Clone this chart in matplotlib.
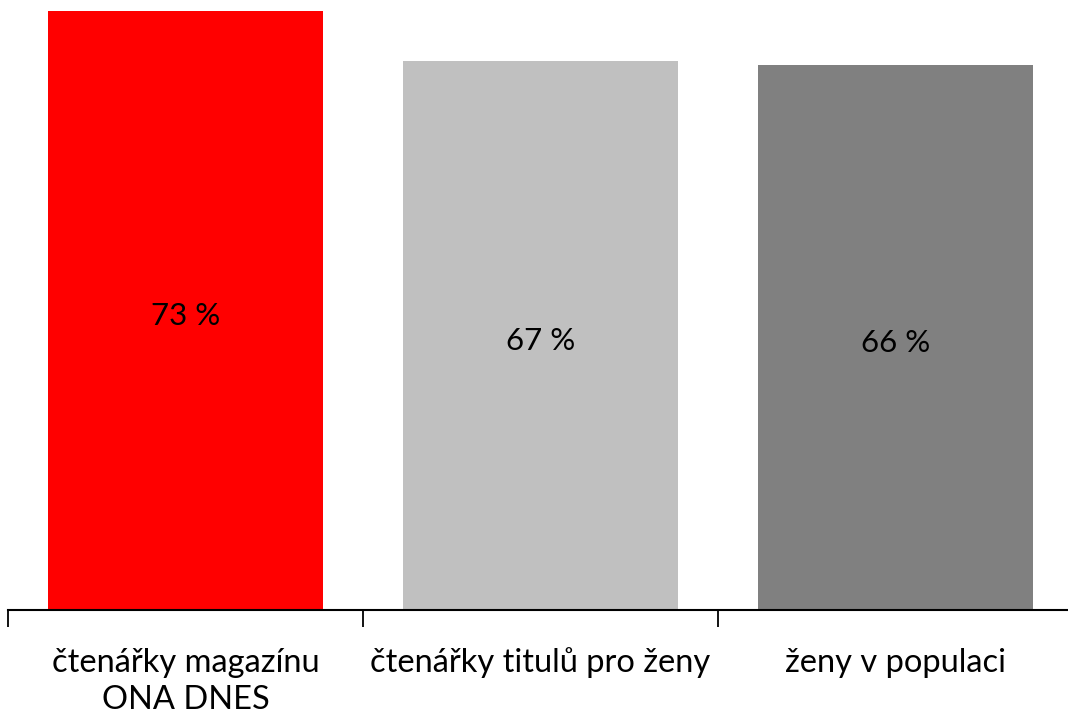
import matplotlib
matplotlib.use("Agg")
import matplotlib.pyplot as plt

categories = ["čtenářky magazínu\nONA DNES", "čtenářky titulů pro ženy", "ženy v populaci"]
values = [73.0, 66.9, 66.4]
colors = ["#FF0000", "#C0C0C0", "#808080"]

plt.rcParams['font.family'] = ['Lato', 'DejaVu Sans']

W, H = 1068, 715
fig = plt.figure(figsize=(W / 100, H / 100), dpi=100)
left_px, right_px, base_px, top_px = 8, 1073, 610, 0
ax = fig.add_axes([left_px / W, (H - base_px) / H, (right_px - left_px) / W, (base_px - top_px) / H])

x = list(range(len(categories)))
bars = ax.bar(x, values, width=0.775, color=colors, zorder=2)
ax.set_xlim(-0.5, len(categories) - 0.5)
ax.set_ylim(0, 74.34)

for xi, v in zip(x, values):
    ax.annotate(f"{v:.0f} %", xy=(xi, v / 2), xytext=(0, -4), textcoords="offset points",
                ha="center", va="center", fontsize=22.5, color="black")

for s in ["top", "right", "left"]:
    ax.spines[s].set_visible(False)
ax.spines["bottom"].set_linewidth(1.5)
ax.set_yticks([])
ax.set_xticks([i - 0.5 for i in range(len(categories) + 1)], minor=False)
ax.set_xticklabels([])
ax.tick_params(axis="x", which="major", length=12, width=1.3, direction="out")
ax.set_xticks(x, minor=True)
ax.set_xticklabels(categories, minor=True, fontsize=23.5, linespacing=1.32)
ax.tick_params(axis="x", which="minor", length=0, pad=27)

fig.savefig("out.png", dpi=100)
